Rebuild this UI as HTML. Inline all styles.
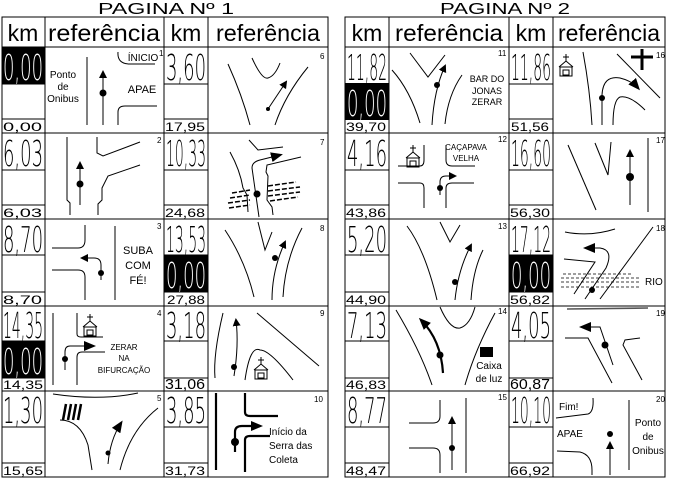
<!DOCTYPE html>
<html><head><meta charset="utf-8"><style>
html,body{margin:0;padding:0;background:#fff}
svg{display:block}
.g{fill:none;stroke:#000;stroke-width:1}
.t{stroke-width:2.2}
.big{font-family:"DejaVu Sans ExtraLight","DejaVu Sans Light","Liberation Sans Narrow","Liberation Sans",sans-serif;font-weight:200;font-size:36px;fill:#000}
.bw{fill:#fff}
.sm{font-family:"Liberation Sans",sans-serif;font-size:12px;fill:#000}
.lb{font-family:"Liberation Sans",sans-serif;font-size:10px;fill:#000}
.hd{font-family:"Liberation Sans",sans-serif;font-size:23px;fill:#000}
.n{font-family:"Liberation Sans",sans-serif;font-size:8px;fill:#000}
</style></head><body>
<svg width="674" height="478" viewBox="0 0 674 478" xmlns="http://www.w3.org/2000/svg">
<defs>
<marker id="a" markerWidth="8" markerHeight="8" refX="6" refY="4" orient="auto" markerUnits="userSpaceOnUse"><path d="M0,0 L8,4 L0,8 z"/></marker>
<marker id="A" markerWidth="12" markerHeight="10" refX="9" refY="5" orient="auto" markerUnits="userSpaceOnUse"><path d="M0,0 L12,5 L0,10 z"/></marker>
<g id="ch" fill="none" stroke="#000" stroke-width="1"><path d="M0,-13 L0,-6 M-3,-10 L3,-10 M-7,0 L0,-6 L7,0"/><rect x="-6" y="0" width="12" height="9"/><rect x="-3" y="3" width="6" height="5"/></g>
</defs>
<text x="166" y="14" text-anchor="middle" class="sm" style="font-size:16px" textLength="136" lengthAdjust="spacingAndGlyphs">PAGINA Nº 1</text>
<text x="505" y="14" text-anchor="middle" class="sm" style="font-size:16px" textLength="130" lengthAdjust="spacingAndGlyphs">PAGINA Nº 2</text>

<rect x="2" y="47" width="43" height="37" fill="#000"/>
<rect x="2" y="341" width="43" height="37" fill="#000"/>
<rect x="164" y="255" width="44" height="37" fill="#000"/>
<rect x="345" y="83" width="44" height="37" fill="#000"/>
<rect x="509" y="255" width="44" height="37" fill="#000"/>

<g class="g" stroke="#333">
<rect x="2" y="17" width="326" height="460"/>
<path d="M2,47 H328 M2,133 H328 M2,219 H328 M2,306 H328 M2,391 H328 M45,17 V477 M164,17 V477 M208,17 V477"/>
<path d="M2,84 H45 M2,119 H45 M164,84 H208 M164,119 H208 M2,170 H45 M2,205 H45 M164,170 H208 M164,205 H208 M2,255 H45 M2,292 H45 M164,255 H208 M164,292 H208 M2,341 H45 M2,378 H45 M164,341 H208 M164,378 H208 M2,427 H45 M2,463 H45 M164,427 H208 M164,463 H208"/>
<rect x="345" y="17" width="320" height="460"/>
<path d="M345,47 H665 M345,133 H665 M345,219 H665 M345,306 H665 M345,391 H665 M389,17 V477 M509,17 V477 M553,17 V477"/>
<path d="M345,84 H389 M345,119 H389 M509,84 H553 M509,119 H553 M345,170 H389 M345,205 H389 M509,170 H553 M509,205 H553 M345,255 H389 M345,292 H389 M509,255 H553 M509,292 H553 M345,341 H389 M345,378 H389 M509,341 H553 M509,378 H553 M345,427 H389 M345,463 H389 M509,427 H553 M509,463 H553"/>
</g>

<text x="23" y="41" text-anchor="middle" class="hd">km</text>
<text x="104" y="41" text-anchor="middle" class="hd" textLength="112" lengthAdjust="spacingAndGlyphs">referência</text>
<text x="186" y="41" text-anchor="middle" class="hd">km</text>
<text x="268" y="41" text-anchor="middle" class="hd" textLength="104" lengthAdjust="spacingAndGlyphs">referência</text>
<text x="367" y="41" text-anchor="middle" class="hd">km</text>
<text x="449" y="41" text-anchor="middle" class="hd" textLength="108" lengthAdjust="spacingAndGlyphs">referência</text>
<text x="531" y="41" text-anchor="middle" class="hd">km</text>
<text x="609" y="41" text-anchor="middle" class="hd" textLength="102" lengthAdjust="spacingAndGlyphs">referência</text>

<text x="3" y="80" class="big bw" textLength="40" lengthAdjust="spacingAndGlyphs">0,00</text>
<text x="166" y="80" class="big" textLength="40" lengthAdjust="spacingAndGlyphs">3,60</text>
<text x="3" y="166" class="big" textLength="40" lengthAdjust="spacingAndGlyphs">6,03</text>
<text x="166" y="166" class="big" textLength="40" lengthAdjust="spacingAndGlyphs">10,33</text>
<text x="3" y="252" class="big" textLength="40" lengthAdjust="spacingAndGlyphs">8,70</text>
<text x="166" y="252" class="big" textLength="40" lengthAdjust="spacingAndGlyphs">13,53</text>
<text x="166" y="288" class="big bw" textLength="40" lengthAdjust="spacingAndGlyphs">0,00</text>
<text x="3" y="338" class="big" textLength="40" lengthAdjust="spacingAndGlyphs">14,35</text>
<text x="3" y="374" class="big bw" textLength="40" lengthAdjust="spacingAndGlyphs">0,00</text>
<text x="166" y="338" class="big" textLength="40" lengthAdjust="spacingAndGlyphs">3,18</text>
<text x="3" y="423" class="big" textLength="40" lengthAdjust="spacingAndGlyphs">1,30</text>
<text x="166" y="423" class="big" textLength="40" lengthAdjust="spacingAndGlyphs">3,85</text>
<text x="3" y="131" class="sm" textLength="39" lengthAdjust="spacingAndGlyphs">0,00</text>
<text x="165" y="131" class="sm" textLength="40" lengthAdjust="spacingAndGlyphs">17,95</text>
<text x="3" y="217" class="sm" textLength="39" lengthAdjust="spacingAndGlyphs">6,03</text>
<text x="165" y="217" class="sm" textLength="40" lengthAdjust="spacingAndGlyphs">24,68</text>
<text x="3" y="304" class="sm" textLength="39" lengthAdjust="spacingAndGlyphs">8,70</text>
<text x="167" y="304" class="sm" textLength="38" lengthAdjust="spacingAndGlyphs">27,88</text>
<text x="3" y="389" class="sm" textLength="40" lengthAdjust="spacingAndGlyphs">14,35</text>
<text x="165" y="389" class="sm" style="font-size:15px" textLength="40" lengthAdjust="spacingAndGlyphs">31,06</text>
<text x="3" y="475" class="sm" textLength="40" lengthAdjust="spacingAndGlyphs">15,65</text>
<text x="165" y="475" class="sm" textLength="40" lengthAdjust="spacingAndGlyphs">31,73</text>
<text x="347" y="80" class="big" textLength="40" lengthAdjust="spacingAndGlyphs">11,82</text>
<text x="347" y="116" class="big bw" textLength="40" lengthAdjust="spacingAndGlyphs">0,00</text>
<text x="511" y="80" class="big" textLength="40" lengthAdjust="spacingAndGlyphs">11,86</text>
<text x="347" y="166" class="big" textLength="40" lengthAdjust="spacingAndGlyphs">4,16</text>
<text x="511" y="166" class="big" textLength="40" lengthAdjust="spacingAndGlyphs">16,60</text>
<text x="347" y="252" class="big" textLength="40" lengthAdjust="spacingAndGlyphs">5,20</text>
<text x="511" y="252" class="big" textLength="40" lengthAdjust="spacingAndGlyphs">17,12</text>
<text x="511" y="288" class="big bw" textLength="40" lengthAdjust="spacingAndGlyphs">0,00</text>
<text x="347" y="338" class="big" textLength="40" lengthAdjust="spacingAndGlyphs">7,13</text>
<text x="511" y="338" class="big" textLength="40" lengthAdjust="spacingAndGlyphs">4,05</text>
<text x="347" y="423" class="big" textLength="40" lengthAdjust="spacingAndGlyphs">8,77</text>
<text x="511" y="423" class="big" textLength="40" lengthAdjust="spacingAndGlyphs">10,10</text>
<text x="346" y="131" class="sm" textLength="40" lengthAdjust="spacingAndGlyphs">39,70</text>
<text x="511" y="131" class="sm" textLength="38" lengthAdjust="spacingAndGlyphs">51,56</text>
<text x="346" y="217" class="sm" textLength="40" lengthAdjust="spacingAndGlyphs">43,86</text>
<text x="510" y="217" class="sm" textLength="40" lengthAdjust="spacingAndGlyphs">56,30</text>
<text x="346" y="304" class="sm" textLength="40" lengthAdjust="spacingAndGlyphs">44,90</text>
<text x="510" y="304" class="sm" textLength="40" lengthAdjust="spacingAndGlyphs">56,82</text>
<text x="346" y="389" class="sm" textLength="40" lengthAdjust="spacingAndGlyphs">46,83</text>
<text x="510" y="389" class="sm" style="font-size:15px" textLength="40" lengthAdjust="spacingAndGlyphs">60,87</text>
<text x="346" y="475" class="sm" textLength="40" lengthAdjust="spacingAndGlyphs">48,47</text>
<text x="510" y="475" class="sm" textLength="40" lengthAdjust="spacingAndGlyphs">66,92</text>

<text x="159" y="56" class="n">1</text><text x="320" y="59" class="n">6</text>
<text x="157" y="143" class="n">2</text><text x="320" y="145" class="n">7</text>
<text x="157" y="229" class="n">3</text><text x="320" y="231" class="n">8</text>
<text x="157" y="316" class="n">4</text><text x="320" y="316" class="n">9</text>
<text x="157" y="401" class="n">5</text><text x="314" y="402" class="n">10</text>
<text x="498" y="56" class="n">11</text><text x="656" y="58" class="n">16</text>
<text x="498" y="142" class="n">12</text><text x="656" y="143" class="n">17</text>
<text x="498" y="229" class="n">13</text><text x="656" y="231" class="n">18</text>
<text x="498" y="314" class="n">14</text><text x="656" y="316" class="n">19</text>
<text x="498" y="400" class="n">15</text><text x="656" y="402" class="n">20</text>

<g class="g">
<path d="M87,57 V125"/>
<path d="M103,125 V72" marker-end="url(#a)"/>
<path d="M118,52 Q117,64 130,64 L155,64"/>
<path d="M118,125 L118,112 Q118,106 125,106 L157,106"/>
<path d="M228,64 Q242,95 250,125"/>
<path d="M252,58 Q262,80 268,78 Q275,76 280,63"/>
<path d="M268,109 L286,82" marker-end="url(#a)"/>
<path d="M308,67 Q285,95 275,125"/>
<path d="M67,137 V200 L70,203 V215"/>
<path d="M80,205 V163" marker-end="url(#a)"/>
<path d="M97,137 V153 L103,156 L140,142"/>
<path d="M140,165 L108,176 L102,188 V200 L98,204 V215"/>
<path d="M249,140 L258,150 L283,147"/>
<path d="M259,217 L252,168 Q252,162 260,160 L280,155" marker-end="url(#A)"/>
<path d="M230,152 Q240,170 243,188 L247,195 L248,212"/>
<path d="M301,157 L267,165 L266,172 L268,176 L267,200 L272,207 L273,215"/>
<g stroke-dasharray="5,2" stroke-width="1.5"><path d="M232,193 L250,190 M230,198 L250,195 M228,203 L250,200 M229,208 L250,205 M268,186 L296,182 M268,191 L300,187 M268,196 L300,192 M270,201 L298,197"/></g>
<path d="M52,248 L78,248 Q85,248 85,240 L85,225"/>
<path d="M52,270 L78,270 Q85,270 85,277 L85,300"/>
<path d="M101,280 L101,265 Q101,258 94,258 L82,258" marker-end="url(#a)"/>
<path d="M115,226 V300"/>
<path d="M225,230 Q245,260 254,297"/>
<path d="M258,222 L265,250 L272,232"/>
<path d="M272,300 Q272,270 285,242" marker-end="url(#a)"/>
<path d="M302,228 Q285,260 283,297"/>
<path d="M53,313 V385"/>
<path d="M77,313 L77,334 Q77,337 81,337 L103,337"/>
<path d="M65,370 L65,352 Q65,346 70,346 L93,346" marker-end="url(#A)"/>
<path d="M77,385 L77,357 Q77,352 82,352 L105,352"/>
<path d="M223,313 Q213,355 215,378"/>
<path d="M234,376 Q239,345 236,320" marker-end="url(#a)"/>
<path d="M257,313 L319,366"/>
<path d="M245,380 Q250,345 260,350 Q270,350 293,380"/>
<path d="M53,394 Q100,401 138,393"/>
<path d="M60,420 Q80,420 88,445 L92,470"/>
<path d="M108,464 Q110,440 121,423" marker-end="url(#A)"/>
<path d="M158,408 Q130,430 120,470"/>
<g stroke-width="2.5"><path d="M63,420 L66,404 M68,420 L71,404 M73,420 L76,404 M78,420 L81,404"/></g>
<g class="t"><path d="M216,393 V470"/>
<path d="M245,393 L245,412 Q245,416 250,416 L278,416"/>
<path d="M235,452 L235,432 Q235,426 242,426 L260,426" marker-end="url(#A)"/>
<path d="M245,472 L245,440 Q245,436 250,436 L270,436"/></g>

<path d="M392,70 Q410,90 420,123"/>
<path d="M410,53 L428,77 L445,55"/>
<path d="M432,125 Q434,90 445,66" marker-end="url(#a)"/>
<path d="M445,124 Q448,95 462,75"/>
<path d="M583,52 Q590,90 592,125"/>
<path d="M602,125 L602,95 Q603,75 620,78 Q632,81 638,88" marker-end="url(#A)"/>
<path d="M613,125 Q613,100 620,97 Q630,95 645,110"/>
<path d="M617,54 L660,98"/>
<path d="M631,57 H653 M642,49 V70" stroke-width="3"/>
<path d="M398,166 L420,166 Q424,166 424,160 L424,145"/>
<path d="M446,145 L446,160 Q446,166 452,166 L475,166"/>
<path d="M440,195 L440,182 Q440,176 446,176 L455,176" marker-end="url(#a)"/>
<path d="M398,183 L420,183 Q424,183 424,188 L424,208"/>
<path d="M446,208 L446,188 Q446,183 452,183 L474,183"/>
<path d="M568,145 L596,210"/>
<path d="M595,143 L608,175 L611,142"/>
<path d="M630,205 V151" marker-end="url(#a)"/>
<path d="M648,138 V212"/>
<path d="M407,226 Q425,250 437,300"/>
<path d="M440,222 L450,242 L460,225"/>
<path d="M455,300 Q458,270 471,245" marker-end="url(#a)"/>
<path d="M471,300 Q473,270 483,250"/>
<path d="M565,232 Q590,237 615,229"/>
<path d="M585,299 L606,268 Q614,250 600,248 L586,248" marker-end="url(#A)"/>
<path d="M564,259 L595,262 L574,294"/>
<path d="M653,227 L600,299"/>
<g stroke-dasharray="3,2" stroke-width="0.8"><path d="M563,274 H633 M561,278 H640 M561,282 H640 M561,287 H640"/></g>
<path d="M396,310 Q420,350 432,385"/>
<path d="M443,373 Q441,340 421,320" stroke-width="2.2" marker-end="url(#A)"/>
<path d="M440,307 Q450,330 460,328 Q470,325 475,307"/>
<path d="M495,313 Q475,350 465,385"/>
<path d="M567,309 L648,308" stroke="#555" stroke-width="1.6"/>
<path d="M613,365 L600,327 L582,327" marker-end="url(#A)"/>
<path d="M565,338 L588,338 L612,383"/>
<path d="M640,338 L625,340 L623,345 L642,380"/>
<path d="M409,423 L433,423 Q440,423 440,416 L440,400"/>
<path d="M409,448 L433,448 Q440,448 440,455 L440,473"/>
<path d="M452,470 V418" marker-end="url(#a)"/>
<path d="M466,398 V473"/>
<path d="M593,398 Q594,412 588,414 L556,418"/>
<path d="M610,475 V443" marker-end="url(#a)"/>
<path d="M557,451 L580,452 Q592,455 592,470 L592,475"/>
<path d="M629,400 V470"/>
</g>

<g fill="#000">
<circle cx="103" cy="93" r="3.5"/><circle cx="268" cy="109" r="2"/>
<circle cx="80" cy="184" r="3.5"/><circle cx="257" cy="194" r="3.5"/>
<circle cx="101" cy="273" r="3"/><circle cx="275" cy="258" r="3"/>
<circle cx="65" cy="359" r="3"/><circle cx="234" cy="367" r="3"/>
<circle cx="108" cy="453" r="2.5"/><circle cx="235" cy="442" r="4"/>
<circle cx="437" cy="85" r="3"/><circle cx="602" cy="98" r="3"/>
<circle cx="440" cy="188" r="3"/><circle cx="630" cy="177" r="4"/>
<circle cx="455" cy="282" r="3"/><circle cx="592" cy="290" r="3"/>
<circle cx="440" cy="355" r="3.5"/><circle cx="605" cy="345" r="3.5"/>
<circle cx="452" cy="448" r="3"/><circle cx="610" cy="434" r="3"/>
<rect x="480" y="347" width="13" height="10"/>
</g>

<use href="#ch" x="90" y="327"/>
<use href="#ch" x="261" y="370"/>
<use href="#ch" x="566" y="67"/>
<use href="#ch" x="413" y="158"/>

<g class="lb" text-anchor="middle">
<text x="63" y="78">Ponto</text><text x="63" y="90">de</text><text x="63" y="102">Onibus</text>
<text x="143" y="61">ÍNICIO</text>
<text x="142" y="93" style="font-size:11px">APAE</text>
<text x="138" y="254" style="font-size:11px">SUBA</text><text x="138" y="269" style="font-size:11px">COM</text><text x="138" y="284" style="font-size:11px">FÉ!</text>
<text x="124" y="350" style="font-size:8px">ZERAR</text><text x="124" y="361" style="font-size:8px">NA</text><text x="124" y="373" style="font-size:8px">BIFURCAÇÃO</text>
<text x="487" y="82" style="font-size:9px">BAR DO</text><text x="487" y="94" style="font-size:9px">JONAS</text><text x="487" y="105" style="font-size:9px">ZERAR</text>
<text x="466" y="150" style="font-size:8px">CAÇAPAVA</text><text x="466" y="161" style="font-size:8px">VELHA</text>
<text x="489" y="369">Caixa</text><text x="489" y="382">de luz</text>
<text x="648" y="426">Ponto</text><text x="648" y="440">de</text><text x="648" y="454">Onibus</text>
</g>
<g class="lb">
<text x="269" y="435">Início da</text><text x="269" y="449">Serra das</text><text x="269" y="463">Coleta</text>
<text x="645" y="285">RIO</text>
<text x="559" y="410">Fim!</text>
<text x="557" y="437">APAE</text>
</g>
</svg>
</body></html>
